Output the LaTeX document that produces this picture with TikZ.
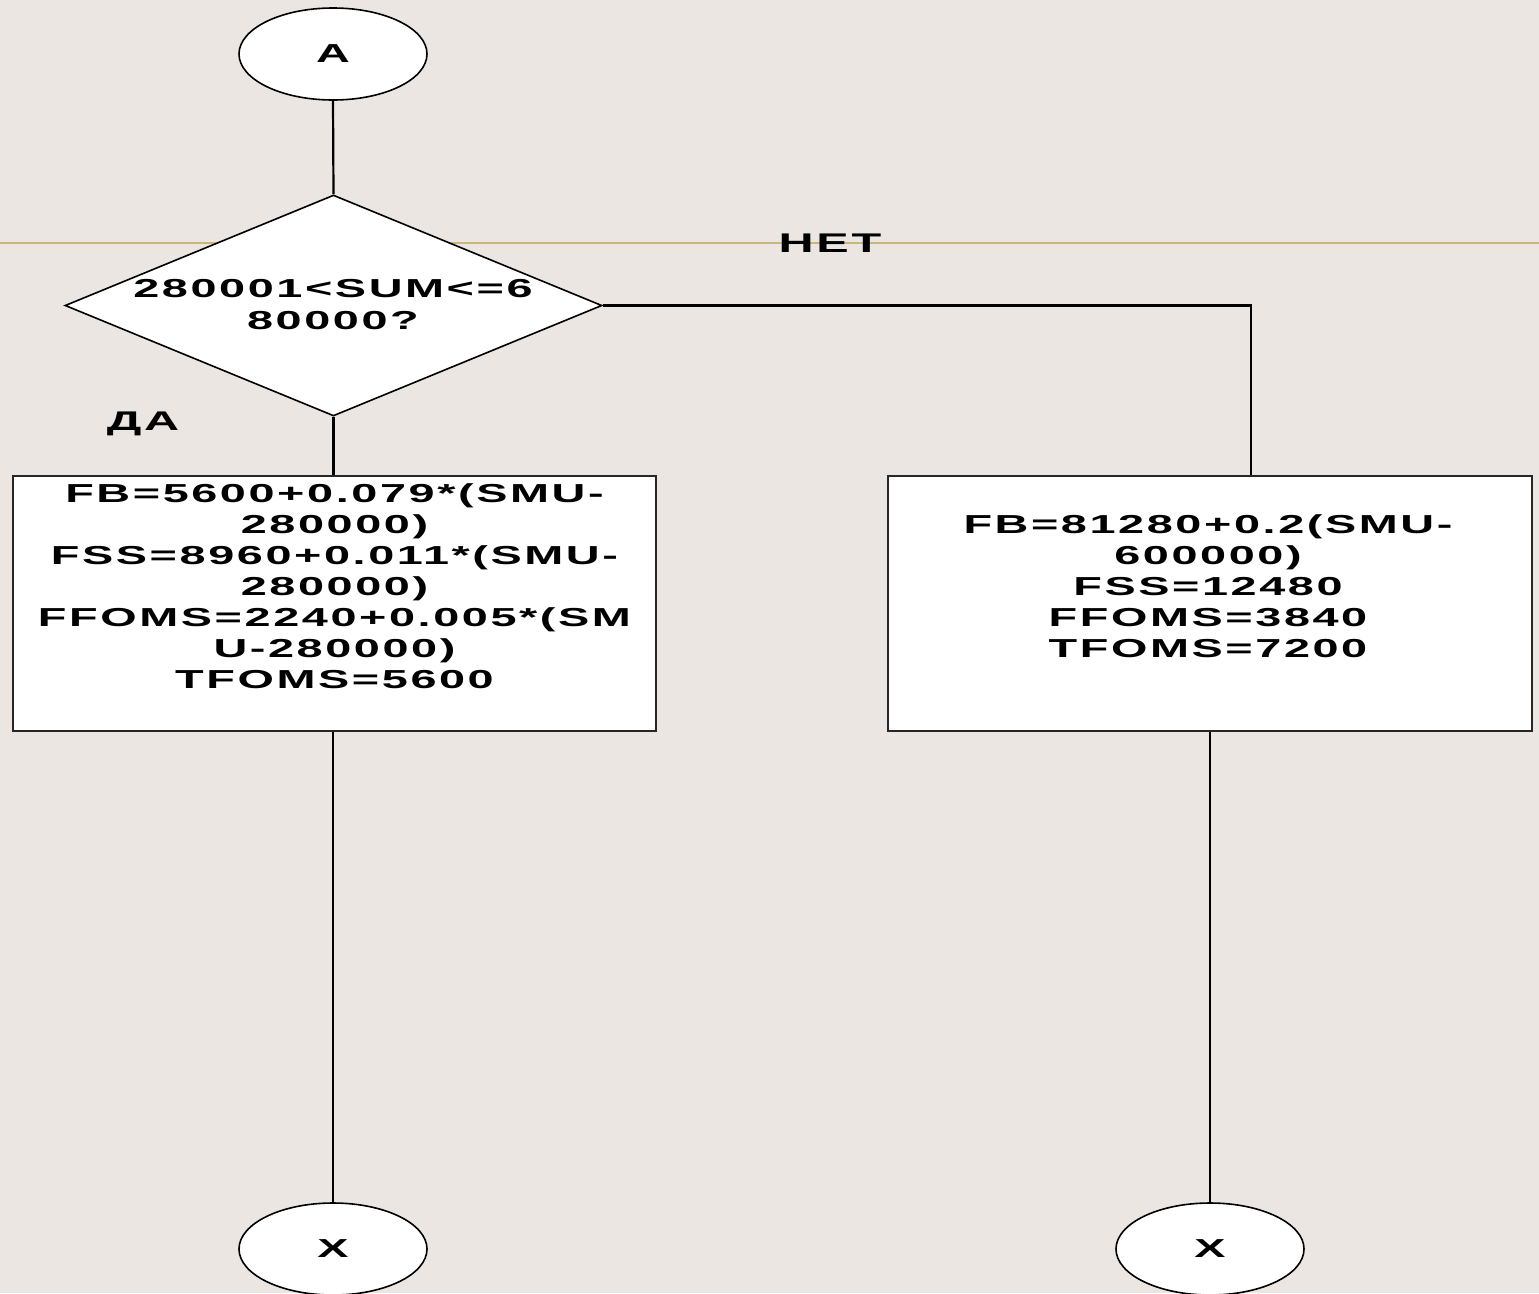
\documentclass[tikz,border=0pt]{standalone}
\usepackage{fontspec}
\usetikzlibrary{shapes.geometric,calc}
\newfontfamily\dfont[FakeStretch=1.8,LetterSpace=10]{Liberation Sans Bold}
\definecolor{bgc}{HTML}{EBE6E2}
\definecolor{tanc}{HTML}{C9B67C}
\tikzset{
  conn/.style={draw=black,line width=2.2pt},
  term/.style={ellipse,draw=black,fill=white,line width=1.6pt,minimum width=188pt,minimum height=92pt,inner sep=0pt,font=\dfont\fontsize{26}{31}\selectfont},
  decision/.style={diamond,draw=black,fill=white,line width=1.6pt,minimum width=537pt,minimum height=221pt,inner sep=0pt},
  procbox/.style={rectangle,draw=black!85,fill=white,line width=2pt,minimum width=643pt,minimum height=255pt,inner sep=0pt},
  txt/.style={align=center,inner sep=0pt,font=\dfont\fontsize{26}{31}\selectfont},
  lbl/.style={inner sep=0pt,font=\dfont\fontsize{27}{31}\selectfont}
}
\begin{document}
\begin{tikzpicture}[x=1pt,y=-1pt]
\fill[bgc] (0,0) rectangle (1539,1293);
\useasboundingbox (0,0) rectangle (1539,1293);
\draw[tanc,line width=2.2pt] (0,243) -- (1539,243);

\node[term] (A) at (333,54) {A};
\node[decision] (d) at (333.5,305.5) {};
\node[txt,font=\dfont\fontsize{26}{32}\selectfont] (dt) at (333,305) {280001<SUM<=6\\80000?};
\node[procbox] (boxL) at (334,603.5) {};
\node[txt] (tL) at (334.5,586) {FB=5600+0.079*(SMU-\\280000)\\FSS=8960+0.011*(SMU-\\280000)\\FFOMS=2240+0.005*(SM\\U-280000)\\TFOMS=5600};
\node[procbox,minimum width=644pt] (boxR) at (1210,603.5) {};
\node[txt] (tR) at (1208,586) {FB=81280+0.2(SMU-\\600000)\\FSS=12480\\FFOMS=3840\\TFOMS=7200};
\node[term] (xL) at (333,1249) {X};
\node[term] (xR) at (1210,1249) {X};

\node[lbl] (net) at (830,243) {НЕТ};
\node[lbl] (da) at (143,424) {ДА};

\draw[conn] (A.south) -- (d.north);
\draw[conn] (d.south) -- (d.south |- boxL.north);
\draw[conn] (d.east) -| ($(boxR.north)+(41,0)$);
\draw[conn] (xL.north |- boxL.south) -- (xL.north);
\draw[conn] (boxR.south) -- (xR.north);
\end{tikzpicture}
\end{document}
